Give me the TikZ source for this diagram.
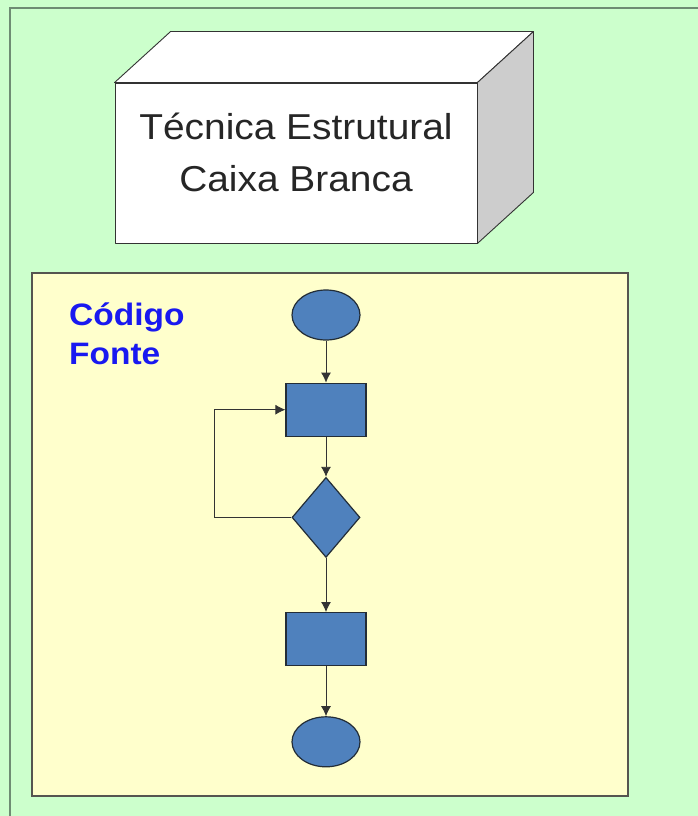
\documentclass[tikz,border=0pt]{standalone}
\usepackage{fontspec}
\setmainfont{Liberation Sans}[FakeStretch=1.08]
\usetikzlibrary{shapes,arrows.meta}
\usetikzlibrary{positioning}
\usetikzlibrary{calc}

\definecolor{bggreen}{RGB}{204,255,204}
\definecolor{framegray}{RGB}{110,140,115}
\definecolor{panelyellow}{RGB}{255,255,204}
\definecolor{panelgray}{RGB}{85,85,80}
\definecolor{flowblue}{RGB}{79,129,189}
\definecolor{flowedge}{RGB}{35,45,55}
\definecolor{cubegray}{RGB}{205,205,205}
\definecolor{codeblue}{RGB}{25,25,240}

\begin{document}
\begin{tikzpicture}[x=1pt,y=-1pt]
 \useasboundingbox (0,0) rectangle (698,816);
 \fill[bggreen] (0,0) rectangle (698,816);
 \draw[framegray, line width=2.5pt] (10,830) -- (10,8) -- (710,8);

 % white box
 \tikzstyle{cube} = [draw=black!80, line width=0.9pt, line join=round];
 \node (front) [cube, fill=white, minimum width=362pt, minimum height=160pt] at (296,163) {};
 \coordinate (d) at (56,-51);
 \draw[cube, fill=white] (front.north west) -- ($(front.north west)+(d)$) -- ($(front.north east)+(d)$) -- (front.north east) -- cycle;
 \draw[cube, fill=cubegray] (front.north east) -- ($(front.north east)+(d)$) -- ($(front.south east)+(d)$) -- (front.south east) -- cycle;
 \node (title) [align=center, text=black!85, font=\fontsize{36}{52}\selectfont]
   at ($(front.center)+(0,-11)$) {Técnica Estrutural\\Caixa Branca};

 % source code panel
 \draw[panelgray, fill=panelyellow, line width=1.5pt] (32,273) rectangle (628,796);
 \node (codigo) [anchor=base west, align=left, inner sep=0pt, text=codeblue,
   font=\bfseries\fontsize{31}{39}\selectfont] at (69,364) {Código\\Fonte};

 \tikzstyle{blk} = [fill=flowblue, draw=flowedge, line width=1.2pt, inner sep=0pt];
 \tikzstyle{term} = [blk, ellipse, minimum width=68pt, minimum height=50pt];
 \tikzstyle{proc} = [blk, rectangle, minimum width=80pt, minimum height=53pt];
 \tikzstyle{dec} = [blk, diamond, minimum width=68pt, minimum height=80pt];
 \tikzstyle{flow} = [draw=black!80, line width=0.9pt, -{Latex[length=10pt,width=10pt]}];

 \node (start) [term] at (326,315) {};
 \node (step1) [proc, below=42pt of start] {};
 \node (test) [dec, below=40pt of step1] {};
 \node (step2) [proc, below=54pt of test] {};
 \node (stop) [term, below=50pt of step2] {};

 \draw[flow] (start) -- (step1);
 \draw[flow] (step1) -- (test);
 \draw[flow] (test) -- (step2);
 \draw[flow] (step2) -- (stop);
 \draw[flow] (test.west) -- ($(test.west)+(-77,0)$) |- (step1.west);
\end{tikzpicture}
\end{document}
